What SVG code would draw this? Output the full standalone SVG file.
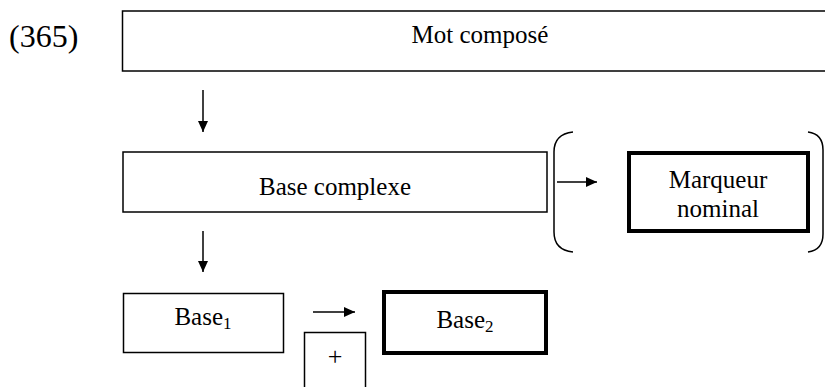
<svg xmlns="http://www.w3.org/2000/svg" width="825" height="387" viewBox="0 0 825 387">
<style>
text{font-family:"Liberation Serif","Times New Roman",serif;fill:#000}
.lbl{font-size:25px;text-anchor:middle}
.thin{fill:#fff;stroke:#000;stroke-width:1.5}
.thick{fill:#fff;stroke:#000;stroke-width:4}
.con{stroke:#000;stroke-width:1.5;fill:none}
.sub{font-size:17px}
</style>
<defs>
<marker id="ah" markerUnits="userSpaceOnUse" markerWidth="12" markerHeight="12" refX="11" refY="5" orient="auto">
<path d="M0,0 L11,5 L0,10 z" fill="#000"/>
</marker>
</defs>
<text x="9" y="47" style="font-size:32px">(365)</text>
<g id="mot-compose">
<rect class="thin" x="122.5" y="11" width="730" height="60"/>
<text class="lbl" x="480" y="43">Mot composé</text>
</g>
<g id="base-complexe">
<rect class="thin" x="123" y="152" width="424" height="60"/>
<text class="lbl" x="335" y="195">Base complexe</text>
</g>
<g id="marqueur-nominal">
<rect class="thick" x="629" y="153" width="179" height="78"/>
<text class="lbl" x="718" y="188">Marqueur</text>
<text class="lbl" x="718" y="217">nominal</text>
</g>
<g id="base1">
<rect class="thin" x="123.5" y="293.5" width="160" height="59"/>
<text class="lbl" x="203" y="325">Base<tspan class="sub" dy="4">1</tspan></text>
</g>
<g id="plus">
<rect class="thin" x="304.5" y="332.5" width="61" height="70"/>
<text x="335" y="365" style="font-size:26px;text-anchor:middle">+</text>
</g>
<g id="base2">
<rect class="thick" x="384" y="292" width="162" height="61"/>
<text class="lbl" x="465" y="328">Base<tspan class="sub" dy="4">2</tspan></text>
</g>
<g id="connectors">
<line class="con" x1="203" y1="90" x2="203" y2="132" marker-end="url(#ah)"/>
<line class="con" x1="203" y1="231" x2="203" y2="272" marker-end="url(#ah)"/>
<line class="con" x1="557" y1="182" x2="597" y2="182" marker-end="url(#ah)"/>
<line class="con" x1="313" y1="312" x2="355" y2="312" marker-end="url(#ah)"/>
<path class="con" d="M573,132 Q554,134 554,152 L554,232 Q554,250 573,252"/>
<path class="con" d="M808,132 Q823,134 823,150 L823,234 Q823,250 808,252"/>
</g>
</svg>
